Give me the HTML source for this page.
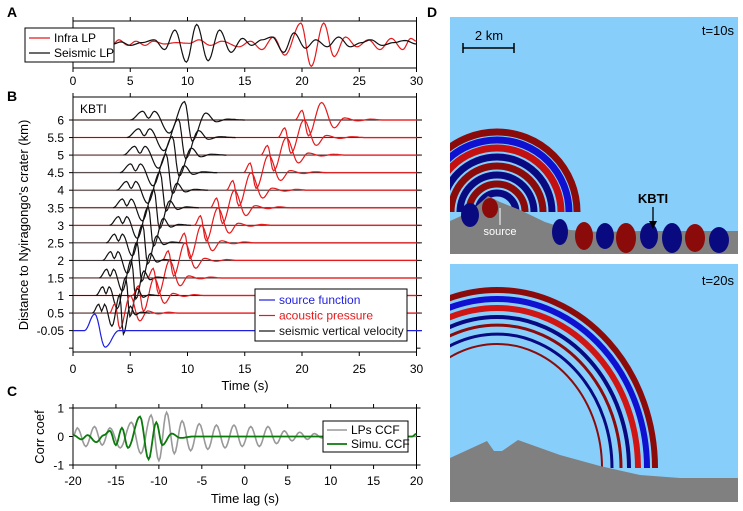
<!DOCTYPE html>
<html><head><meta charset="utf-8"><style>
html,body{margin:0;padding:0;background:#fff;width:743px;height:511px;overflow:hidden;}
svg{display:block;font-family:"Liberation Sans",Arial,sans-serif;}
</style></head><body>
<svg id="fig" width="743" height="511" viewBox="0 0 743 511">
<g id="pA"></g>
<g id="pB"></g>
<g id="pC"></g>
<g id="pD">
  <rect x="450" y="17" width="288" height="237" fill="#87cefa"/>
  <clipPath id="c1"><rect x="450" y="17" width="288" height="237"/></clipPath>
  <g clip-path="url(#c1)">
    <g fill="none" stroke-width="7">
      <path d="M417,212 A80,80 0 0 1 577,212" stroke="#8b0a0a"/>
      <path d="M425,212 A72,72 0 0 1 569,212" stroke="#1010d0"/>
      <path d="M433,212 A64,64 0 0 1 561,212" stroke="#c41010"/>
      <path d="M442,212 A55,55 0 0 1 552,212" stroke="#0a0a80"/>
      <path d="M451,212 A46,46 0 0 1 543,212" stroke="#8b0a0a"/>
      <path d="M460,212 A37,37 0 0 1 534,212" stroke="#0a0a80"/>
      <path d="M469,212 A28,28 0 0 1 525,212" stroke="#8b0a0a"/>
      <path d="M478,212 A19,19 0 0 1 516,212" stroke="#0a0a80"/>
    </g>
    <polygon points="450,221 470,212 488,196 500,202 520,210 545,222 570,230 600,232 640,231 738,231 738,254 450,254" fill="#808080"/>
    <g>
      <ellipse cx="490" cy="208" rx="8" ry="10" fill="#8b0a0a"/>
      <ellipse cx="470" cy="215" rx="9" ry="12" fill="#0a0a80"/>
      <ellipse cx="560" cy="232" rx="8" ry="13" fill="#0a0a80"/>
      <ellipse cx="584" cy="236" rx="9" ry="14" fill="#8b0a0a"/>
      <ellipse cx="605" cy="236" rx="9" ry="13" fill="#0a0a80"/>
      <ellipse cx="626" cy="238" rx="10" ry="15" fill="#8b0a0a"/>
      <ellipse cx="649" cy="236" rx="9" ry="13" fill="#0a0a80"/>
      <ellipse cx="672" cy="238" rx="10" ry="15" fill="#0a0a80"/>
      <ellipse cx="695" cy="238" rx="10" ry="14" fill="#8b0a0a"/>
      <ellipse cx="719" cy="240" rx="10" ry="13" fill="#0a0a80"/>
    </g>
  </g>
  <text x="734" y="35" font-size="13" text-anchor="end">t=10s</text>
  <g>
    <line x1="463" y1="48" x2="514" y2="48" stroke="#000" stroke-width="1.5"/>
    <line x1="463" y1="43" x2="463" y2="53" stroke="#000" stroke-width="1.5"/>
    <line x1="514" y1="43" x2="514" y2="53" stroke="#000" stroke-width="1.5"/>
    <text x="489" y="40" font-size="13" text-anchor="middle">2 km</text>
  </g>
  <text x="653" y="203" font-size="13" font-weight="bold" text-anchor="middle">KBTI</text>
  <line x1="653" y1="207" x2="653" y2="224" stroke="#000" stroke-width="1.3"/>
  <polygon points="649,221 657,221 653,229" fill="#000"/>
  <text x="500" y="235" font-size="11" fill="#fff" text-anchor="middle">source</text>
  <line x1="500" y1="225" x2="500" y2="208" stroke="#fff" stroke-width="1"/>

  <rect x="450" y="264" width="288" height="238" fill="#87cefa"/>
  <clipPath id="c2"><rect x="450" y="264" width="288" height="238"/></clipPath>
  <g clip-path="url(#c2)">
    <g fill="none" stroke-width="6">
      <path d="M339,468 A158,178 0 0 1 655,468" stroke="#8b0a0a"/>
      <path d="M347,468 A150,169 0 0 1 647,468" stroke="#1010d0"/>
      <path d="M356,468 A141,160 0 0 1 638,468" stroke="#d01515"/>
      <path d="M365,468 A132,151 0 0 1 629,468" stroke="#0a0a80" stroke-width="4"/>
      <path d="M373,468 A124,143 0 0 1 621,468" stroke="#8b0a0a" stroke-width="3"/>
      <path d="M382,468 A115,134 0 0 1 612,468" stroke="#0a0a80" stroke-width="3"/>
      <path d="M392,468 A105,124 0 0 1 602,468" stroke="#8b0a0a" stroke-width="2"/>
    </g>
    <polygon points="450,458 487,441 494,451 502,451 518,440 560,455 600,466 640,475 680,478 738,478 738,502 450,502" fill="#808080"/>
  </g>
  <text x="734" y="285" font-size="13" text-anchor="end">t=20s</text>
</g>
<g font-weight="bold" font-size="14">
  <text x="7" y="17">A</text><text x="7" y="101">B</text><text x="7" y="396">C</text><text x="427" y="17">D</text>
</g>
</svg>
<script>
// ---------- DATA ----------
const infraT=[0,3.5,4,4.8,5.5,6.3,7,8,9,10.2,11,12,13,14.5,15.5,16.5,17.5,18.5,19.9,20.8,21.9,22.8,23.8,24.8,25.8,26.8,27.8,28.8,29.5,30];
const infraV=[0,0,0.3,-0.1,0.2,-0.1,0.2,0,0.1,0.05,0.3,-0.1,0.2,-0.2,0.2,-0.4,0.5,-0.8,1.5,-1.6,1.5,-0.9,0.5,-0.2,0.3,-0.4,0.4,-0.4,0.4,0.2];
const seisT=[0,3.5,4.2,5,6,7.1,8,8.9,9.9,10.8,11.8,12.8,13.8,14.8,15.6,16.5,17.4,18.4,19.3,20.3,21.2,22.2,23.2,24.2,25.2,26,27,28,29,30];
const seisV=[0,0,0.15,-0.1,0.1,0.3,-0.4,1.0,-1.3,1.4,-1.2,1.0,-0.6,0.4,-0.1,0.3,0.5,-0.6,0.8,-0.3,0.3,-0.2,0.5,-0.2,0.1,0.3,-0.1,0.1,0.25,0];
const xTicksA=[0,5,10,15,20,25,30];

const distances=[6,5.5,5,4.5,4,3.5,3,2.5,2,1.5,1,0.5];
const distLabels=["6","5.5","5","4.5","4","3.5","3","2.5","2","1.5","1","0.5","-0.05"];
const seisOnset=[5.0,4.7,4.4,4.1,3.8,3.5,3.2,2.9,2.6,2.3,2.0,1.7];
const seisStretch=[1.0,0.95,0.9,0.85,0.8,0.75,0.71,0.67,0.63,0.59,0.55,0.5];
const seisTplT=[0,1.1,1.6,2.1,3.4,4.75,5.4,6.6,7.5,8.5,10];
const seisTplV=[0,0.5,0.1,0.5,-0.75,1.05,-1.2,0.4,-0.1,0.05,0];
const acOnset=[19.4,17.9,16.4,14.9,13.4,12.0,10.6,9.2,7.8,6.5,5.2,3.2];
const acStretch=[1.1,1.08,1.06,1.04,1.02,1.0,0.98,0.96,0.94,0.92,0.9,0.85];
const acTplT=[0,0.55,1.05,2.1,3.1,3.9,5,6,7];
const acTplV=[0,0.55,-0.9,1.0,-0.45,0.12,-0.05,0.05,0];
const srcT=[0,1.0,1.9,2.8,4.0,16];
const srcV=[0,0,0.95,-0.95,0,0];
const xTicksB=[0,5,10,15,20,25,30];

const lpT=[-20,-19.5,-18.5,-17.5,-16.6,-15.7,-14.5,-13.2,-12.1,-10.9,-10,-9.1,-8.2,-7.3,-6.3,-5.3,-4.3,-3.3,-2.3,-1.25,-0.3,0.7,1.7,2.7,3.7,4.6,5.5,6.4,7.3,8.1,9,10,12,14,16,18,20];
const lpV=[0,0.3,-0.35,0.35,-0.3,0.3,-0.4,0.5,-0.6,0.75,-0.85,0.85,-0.6,0.55,-0.5,0.45,-0.45,0.4,-0.4,0.4,-0.35,0.35,-0.35,0.35,-0.25,0.2,-0.15,0.15,-0.1,0.1,-0.05,0.05,0,0,0,0,0];
const simT=[-20,-19,-18.3,-17.3,-16.4,-15.7,-15,-14.3,-13.6,-12.2,-11.2,-10.3,-9.6,-8.5,-7.5,-6,19.5,20];
const simV=[0.05,-0.1,0.05,-0.2,0.05,0.2,-0.3,0.3,-0.4,0.7,-0.8,0.5,-0.3,0.1,-0.05,0,0,0.1];
const xTicksC=[-20,-15,-10,-5,0,5,10,15,20];
const yTicksC=[1,0,-1];

// ---------- HELPERS ----------
const NS="http://www.w3.org/2000/svg";
function mk(parent,tag,attrs){const e=document.createElementNS(NS,tag);for(const k in attrs)e.setAttribute(k,attrs[k]);parent.appendChild(e);return e;}
function pathFrom(ts,vs,xf,yf){
  let d="M"+xf(ts[0]).toFixed(1)+","+yf(vs[0]).toFixed(1);
  for(let i=1;i<ts.length;i++){
    const t0=ts[i-1],t1=ts[i],v0=vs[i-1],v1=vs[i];
    const n=Math.max(2,Math.ceil((xf(t1)-xf(t0))/1.5));
    for(let k=1;k<=n;k++){const f=k/n,s=(1-Math.cos(Math.PI*f))/2;
      d+="L"+xf(t0+(t1-t0)*f).toFixed(1)+","+yf(v0+(v1-v0)*s).toFixed(1);}
  }
  return d;
}
function frame(g,x0,x1,y0,y1,xticks,xf,yticks,tickLabY){
  mk(g,"rect",{x:x0,y:y0,width:x1-x0,height:y1-y0,fill:"none",stroke:"#000","stroke-width":1});
  xticks.forEach(t=>{const x=xf(t);
    mk(g,"line",{x1:x,y1:y0,x2:x,y2:y0-4,stroke:"#000"});
    mk(g,"line",{x1:x,y1:y1,x2:x,y2:y1+4,stroke:"#000"});
    const tx=mk(g,"text",{x:x,y:tickLabY,"font-size":12,"text-anchor":"middle"});tx.textContent=t;});
  yticks.forEach(y=>{mk(g,"line",{x1:x0,y1:y,x2:x0-4,y2:y,stroke:"#000"});mk(g,"line",{x1:x1,y1:y,x2:x1+4,y2:y,stroke:"#000"});});
}

// ---------- PANEL A ----------
(function(){
  const g=document.getElementById("pA");
  const xf=t=>73+t*(343.5/30), yf=v=>44-v*14;
  frame(g,73,416.5,21,68,xTicksA,xf,[],85);
  const pi=mk(g,"path",{d:pathFrom(infraT,infraV,xf,yf),fill:"none",stroke:"#e41a1c","stroke-width":1.2});
  
  
  const ps=mk(g,"path",{d:pathFrom(seisT,seisV,xf,yf),fill:"none",stroke:"#111","stroke-width":1.2});
  
  
  const lg=mk(g,"g",{});
  
  
  mk(lg,"rect",{x:25,y:28,width:89,height:34,fill:"#fff",stroke:"#000"});
  mk(lg,"line",{x1:29,y1:38,x2:50,y2:38,stroke:"#e41a1c","stroke-width":1.2});
  mk(lg,"line",{x1:29,y1:53,x2:50,y2:53,stroke:"#111","stroke-width":1.2});
  let t=mk(lg,"text",{x:54,y:42,"font-size":12});t.textContent="Infra LP";
  t=mk(lg,"text",{x:54,y:57,"font-size":12});t.textContent="Seismic LP";
})();

// ---------- PANEL B ----------
(function(){
  const g=document.getElementById("pB");
  const xf=t=>73+t*(343.5/30);
  const rowY=i=>120+i*17.55;
  const yt=[];for(let i=0;i<=13;i++)yt.push(rowY(i));
  frame(g,73,416.5,97,352,xTicksB,xf,yt,373);
  distLabels.forEach((l,i)=>{const t=mk(g,"text",{x:64,y:rowY(i)+4.5,"font-size":12,"text-anchor":"end"});t.textContent=l;});
  let t=mk(g,"text",{x:80,y:113,"font-size":12});t.textContent="KBTI";
  t=mk(g,"text",{x:245,y:390,"font-size":13,"text-anchor":"middle"});t.textContent="Time (s)";
  
  
  t=mk(g,"text",{x:0,y:0,"font-size":13,"text-anchor":"middle",transform:"translate(28,225) rotate(-90)"});t.textContent="Distance to Nyiragongo's crater (km)";
  
  
  distances.forEach((d,i)=>{
    const y0=rowY(i), yf=v=>y0-v*17.5;
    mk(g,"line",{x1:73,y1:y0,x2:422,y2:y0,stroke:"#f08080","stroke-width":2,opacity:0.3});
    mk(g,"line",{x1:73,y1:y0,x2:422,y2:y0,stroke:"#222","stroke-width":0.9});
    const aT=acTplT.map(x=>acOnset[i]+x*acStretch[i]).concat([30]), aV=acTplV.concat([0]);
    const pa=mk(g,"path",{d:pathFrom(aT,aV,xf,yf),fill:"none",stroke:"#e41a1c","stroke-width":1.2});
    
    
    const sT=seisTplT.map(x=>seisOnset[i]+x*seisStretch[i]), sV=seisTplV;
    const ps=mk(g,"path",{d:pathFrom(sT,sV,xf,yf),fill:"none",stroke:"#111","stroke-width":1.2});
    
    
  });
  const ys=rowY(12);
  const pb=mk(g,"path",{d:pathFrom(srcT,srcV,xf,v=>ys-v*17.5),fill:"none",stroke:"#1f1fe0","stroke-width":1.2});
  
  
  mk(g,"line",{x1:xf(16),y1:ys,x2:422,y2:ys,stroke:"#1f1fe0","stroke-width":1.2});
  const lg=mk(g,"g",{});
  
  
  mk(lg,"rect",{x:255,y:289,width:152,height:52,fill:"#fff",stroke:"#000"});
  [["source function","#1f1fe0"],["acoustic pressure","#e41a1c"],["seismic vertical velocity","#111"]].forEach((e,k)=>{
    const yy=300+k*15.5;
    mk(lg,"line",{x1:259,y1:yy,x2:275,y2:yy,stroke:e[1],"stroke-width":1.2});
    const tt=mk(lg,"text",{x:279,y:yy+4,"font-size":12,fill:e[1]});tt.textContent=e[0];
  });
})();

// ---------- PANEL C ----------
(function(){
  const g=document.getElementById("pC");
  const xf=t=>73+(t+20)*(343.5/40), yf=v=>436.5-v*28.5;
  frame(g,73,416.5,408,465,xTicksC,xf,yTicksC.map(yf),485);
  yTicksC.forEach(v=>{const t=mk(g,"text",{x:64,y:yf(v)+4.5,"font-size":12,"text-anchor":"end"});t.textContent=v;});
  let t=mk(g,"text",{x:245,y:503,"font-size":13,"text-anchor":"middle"});t.textContent="Time lag (s)";
  
  
  t=mk(g,"text",{x:0,y:0,"font-size":13,"text-anchor":"middle",transform:"translate(44,437) rotate(-90)"});t.textContent="Corr coef";
  
  
  const p1=mk(g,"path",{d:pathFrom(lpT,lpV,xf,yf),fill:"none",stroke:"#999","stroke-width":1.6});
  
  
  const p2=mk(g,"path",{d:pathFrom(simT,simV,xf,yf),fill:"none",stroke:"#0a7a0a","stroke-width":1.8});
  
  
  const lg=mk(g,"g",{});
  
  
  mk(lg,"rect",{x:323,y:421,width:85,height:31,fill:"#fff",stroke:"#000"});
  mk(lg,"line",{x1:327,y1:430,x2:347,y2:430,stroke:"#999","stroke-width":1.6});
  mk(lg,"line",{x1:327,y1:444,x2:347,y2:444,stroke:"#0a7a0a","stroke-width":1.8});
  t=mk(lg,"text",{x:351,y:434,"font-size":12});t.textContent="LPs CCF";
  t=mk(lg,"text",{x:351,y:448,"font-size":12});t.textContent="Simu. CCF";
})();
</script>
</body></html>
